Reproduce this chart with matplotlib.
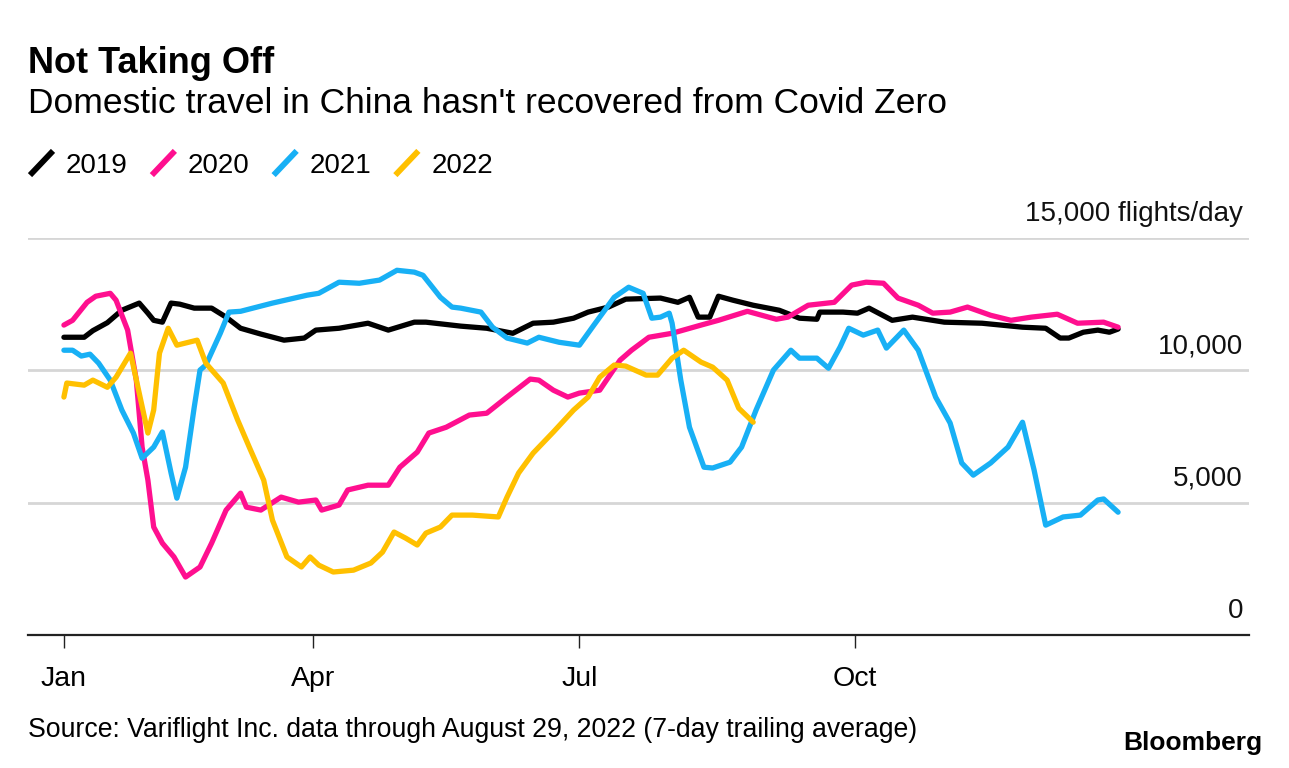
import matplotlib.pyplot as plt
from matplotlib.lines import Line2D

plt.rcParams['font.family'] = ['Liberation Sans', 'DejaVu Sans']

# day of year (0 = Jan 1) and 7-day avg flights/day
days_2019 = [0, 7, 10, 15, 20, 26, 29, 31, 34, 37, 40, 45, 51, 56, 61, 68, 76, 83, 87, 95,
             105, 112, 121, 125, 137, 146, 155, 162, 169, 176, 181, 188, 194, 206, 212, 216,
             219, 223, 226, 231, 238, 247, 254, 260, 261, 269, 274, 278, 286, 293, 304, 317,
             331, 339, 344, 347, 352, 357, 361, 364]
vals_2019 = [11250, 11250, 11500, 11800, 12270, 12540, 12160, 11890, 11820, 12540, 12500, 12350,
             12350, 12010, 11590, 11370, 11140, 11220, 11520, 11590, 11780, 11520, 11820, 11820,
             11670, 11590, 11400, 11780, 11820, 11970, 12200, 12390, 12690, 12730, 12570, 12760,
             12010, 12010, 12800, 12650, 12460, 12270, 11970, 11930, 12200, 12200, 12160, 12350,
             11890, 12010, 11820, 11780, 11630, 11590, 11220, 11220, 11440, 11520, 11440, 11560]

days_2020 = [0, 3, 8, 11, 16, 18, 22, 25, 27, 29, 31, 34, 38, 42, 47, 51, 56, 61, 63, 68, 75,
             81, 87, 89, 95, 98, 105, 112, 116, 122, 126, 132, 140, 146, 153, 161, 164, 169,
             174, 178, 185, 192, 196, 202, 210, 220, 226, 236, 246, 250, 257, 266, 272, 277,
             283, 288, 295, 300, 306, 312, 320, 327, 334, 343, 350, 359, 364]
vals_2020 = [11710, 11890, 12570, 12800, 12910, 12650, 11520, 9630, 7100, 5850, 4080, 3470, 2950,
             2190, 2570, 3470, 4720, 5360, 4830, 4720, 5210, 5020, 5100, 4720, 4910, 5480, 5660,
             5660, 6340, 6910, 7630, 7850, 8310, 8380, 8990, 9670, 9630, 9250, 8990, 9140, 9250,
             10380, 10760, 11250, 11400, 11710, 11890, 12230, 11930, 12010, 12460, 12570, 13220,
             13330, 13290, 12730, 12460, 12160, 12200, 12390, 12080, 11890, 12010, 12120, 11780,
             11820, 11630]

days_2021 = [0, 3, 6, 9, 12, 16, 20, 24, 27, 31, 34, 37, 39, 42, 45, 47, 49, 54, 57, 61, 72,
             84, 88, 95, 102, 109, 115, 121, 124, 130, 134, 137, 144, 148, 153, 160, 164, 171,
             178, 183, 190, 195, 200, 203, 206, 209, 210, 213, 216, 221, 224, 230, 234, 239,
             245, 251, 254, 260, 264, 268, 271, 276, 281, 284, 290, 295, 301, 306, 310, 314,
             320, 326, 331, 335, 339, 345, 351, 357, 359, 364]
vals_2021 = [10760, 10760, 10540, 10610, 10270, 9630, 8500, 7630, 6680, 7100, 7670, 6120, 5170,
             6340, 8610, 10010, 10200, 11400, 12200, 12230, 12540, 12840, 12910, 13330, 13290,
             13410, 13780, 13710, 13590, 12760, 12390, 12350, 12200, 11630, 11220, 11030, 11250,
             11060, 10950, 11710, 12760, 13140, 12910, 11970, 12010, 12160, 11780, 9630, 7850,
             6340, 6310, 6530, 7100, 8500, 10010, 10760, 10460, 10460, 10080, 10880, 11590, 11330,
             11520, 10840, 11520, 10760, 8990, 8010, 6500, 6040, 6500, 7100, 8040, 6230, 4150,
             4460, 4530, 5100, 5140, 4640]

days_2022 = [0, 1, 7, 10, 15, 18, 23, 26, 29, 31, 33, 36, 39, 46, 49, 55, 60, 64, 69, 72, 77,
             82, 85, 88, 93, 100, 106, 110, 114, 118, 122, 125, 130, 134, 141, 150, 153, 157,
             162, 169, 176, 181, 185, 190, 194, 201, 205, 210, 214, 220, 224, 229, 233, 238]
vals_2022 = [8990, 9520, 9440, 9630, 9360, 9740, 10650, 9140, 7630, 8500, 10650, 11590, 10950,
             11140, 10270, 9520, 8120, 7100, 5850, 4340, 2950, 2570, 2950, 2640, 2380, 2450, 2720,
             3130, 3890, 3660, 3400, 3850, 4080, 4530, 4530, 4460, 5210, 6120, 6870, 7670, 8500,
             8990, 9740, 10200, 10160, 9820, 9820, 10460, 10760, 10310, 10120, 9630, 8570, 8040]

series = [
    ("2019", days_2019, vals_2019, "#000000"),
    ("2020", days_2020, vals_2020, "#ff0f8f"),
    ("2021", days_2021, vals_2021, "#18b0f5"),
    ("2022", days_2022, vals_2022, "#ffc000"),
]

month_ticks = [0, 86, 178, 273]
month_labels = ["Jan", "Apr", "Jul", "Oct"]
y_ticks = [0, 5000, 10000, 15000]
y_labels = ["0", "5,000", "10,000", "15,000 flights/day"]

W, H = 1289, 768
fig = plt.figure(figsize=(W / 100, H / 100), dpi=100)
ax = fig.add_axes([28 / W, 1 - 635 / H, (1249 - 28) / W, (635 - 238) / H])

for label, d, v, c in series:
    ax.plot(d, v, color=c, lw=3.8, solid_capstyle='round', solid_joinstyle='round', zorder=3)

ax.set_xlim(-12.4, 409.2)
ax.set_ylim(0, 15000)

for yt in y_ticks[1:]:
    ax.axhline(yt, color="#d6d6d6", lw=2, zorder=1)
for yt, lab in zip(y_ticks, y_labels):
    ax.annotate(lab, xy=(1243 / W, yt), xycoords=('figure fraction', 'data'),
                xytext=(0, 8), textcoords='offset points', ha='right', va='bottom',
                fontsize=20, color="#111111")

for s in ['top', 'right', 'left']:
    ax.spines[s].set_visible(False)
ax.spines['bottom'].set_linewidth(1.6)
ax.spines['bottom'].set_color('#222222')
ax.set_yticks([])
ax.set_xticks(month_ticks)
ax.set_xticklabels(month_labels, fontsize=20.5)
ax.tick_params(axis='x', length=9, width=1, color='#222222', pad=13)

fig.text(28 / W, 1 - 73 / H, "Not Taking Off", fontsize=26, fontweight='bold', va='baseline')
fig.text(28 / W, 1 - 113 / H, "Domestic travel in China hasn't recovered from Covid Zero",
         fontsize=25.5, va='baseline')

# legend: slanted strokes with labels
fig.canvas.draw()
rend = fig.canvas.get_renderer()
xpos = 32
for label, d, v, c in series:
    fig.add_artist(Line2D([xpos / W, (xpos + 19) / W], [1 - 173 / H, 1 - 153 / H],
                          color=c, lw=4.2, transform=fig.transFigure))
    t = fig.text((xpos + 34) / W, 1 - 173 / H, label, fontsize=20, va='baseline')
    xpos = xpos + 34 + t.get_window_extent(rend).width + 26

fig.text(28 / W, 1 - 737 / H,
         "Source: Variflight Inc. data through August 29, 2022 (7-day trailing average)",
         fontsize=19.2, va='baseline')
fig.text(1262 / W, 1 - 750 / H, "Bloomberg", fontsize=19, fontweight='bold',
         ha='right', va='baseline')

fig.savefig("out.png", dpi=100)
